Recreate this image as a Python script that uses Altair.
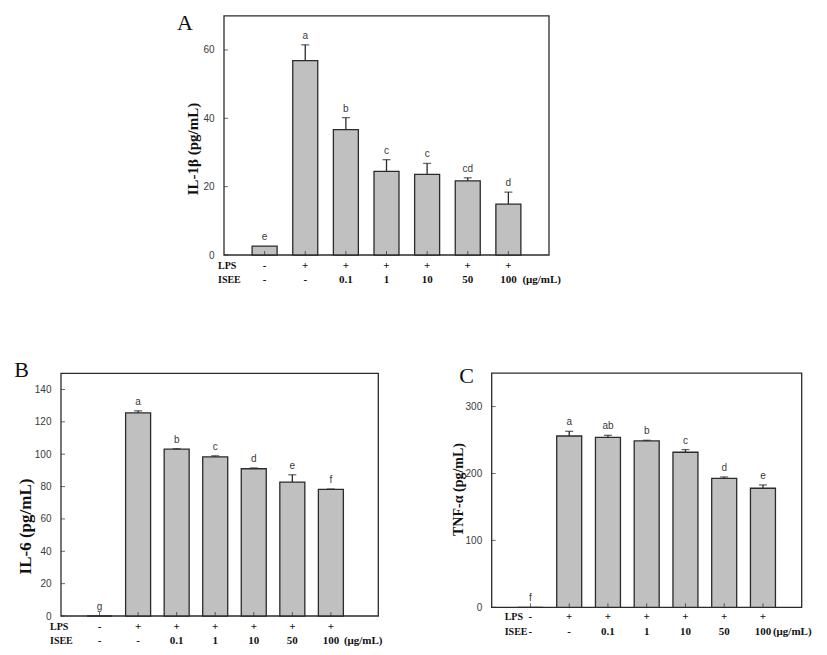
import altair as alt
import pandas as pd

# ---------------- data ----------------
positions = [1, 2, 3, 4, 5, 6, 7]
lps_row = ["-", "+", "+", "+", "+", "+", "+"]
isee_row = ["-", "-", "0.1", "1", "10", "50", "100"]

il1b_mean = [2.6, 56.9, 36.7, 24.5, 23.6, 21.7, 14.9]
il1b_err = [0.0, 4.6, 3.5, 3.4, 3.2, 0.9, 3.5]
il1b_letters = ["e", "a", "b", "c", "c", "cd", "d"]

il6_mean = [0.0, 125.6, 103.1, 98.4, 91.0, 82.8, 78.2]
il6_err = [0.0, 1.2, 0.3, 0.6, 0.5, 4.5, 0.3]
il6_letters = ["g", "a", "b", "c", "d", "e", "f"]

tnf_mean = [0.0, 256.0, 254.0, 248.6, 231.7, 192.8, 177.9]
tnf_err = [0.0, 7.0, 3.0, 1.0, 4.0, 2.0, 5.0]
tnf_letters = ["f", "a", "ab", "b", "c", "d", "e"]

il1b_ticks = [0, 20, 40, 60]
il6_ticks = [0, 20, 40, 60, 80, 100, 120, 140]
tnf_ticks = [0, 100, 200, 300]

SERIF = "Liberation Serif"
SANS = "Liberation Sans"
STROKE = "#2b2b2b"
FILL = "#c0c0c0"
TXT = "#3a3a3a"


def panel(mean, err, letters, ticks, title, tag, cfg):
    df = pd.DataFrame({
        "pos": positions,
        "mean": mean,
        "err": err,
        "top": [m + e for m, e in zip(mean, err)],
        "letter": letters,
        "lps": lps_row,
        "isee": isee_row,
        "base": [cfg["ydom"][0]] * len(positions),
    })
    xs = alt.Scale(domain=cfg["xdom"], range=cfg["xr"], nice=False, zero=False)
    ys = alt.Scale(domain=cfg["ydom"], range=cfg["yr"], nice=False, zero=False)
    X = alt.X("pos:Q", scale=xs, axis=None)

    fdf = pd.DataFrame({"x0": [cfg["xdom"][0]], "x1": [cfg["xdom"][1]],
                        "y0": [cfg["ydom"][0]], "y1": [cfg["ydom"][1]]})
    frame = alt.Chart(fdf).mark_rect(fill="white", fillOpacity=0, stroke=STROKE, strokeWidth=1.3).encode(
        x=alt.X("x0:Q", scale=xs, axis=None), x2="x1:Q",
        y=alt.Y("y0:Q", scale=ys, axis=None), y2="y1:Q")

    bars = alt.Chart(df).mark_bar(size=25, fill=FILL, stroke=STROKE, strokeWidth=1.3).encode(
        x=X,
        y=alt.Y("mean:Q", scale=ys, axis=alt.Axis(
            values=ticks, ticks=False, domain=False, grid=False,
            labelFont=SANS, labelFontSize=10, labelColor=TXT, labelPadding=5,
            title=title, titleFont=SERIF, titleFontWeight="bold", titleFontSize=cfg["tsize"],
            titleColor="#111", titleAngle=270, titleBaseline="bottom", titleAlign="center",
            titleX=cfg["titleX"], titleY=cfg["titleY"], offset=cfg["offset"], orient="left")))

    errs = df[df["err"] > 0]
    rule = alt.Chart(errs).mark_rule(color=STROKE, strokeWidth=1.3).encode(
        x=X, y=alt.Y("mean:Q", scale=ys, axis=None), y2="top:Q")
    cap = alt.Chart(errs).mark_tick(orient="horizontal", size=8, thickness=1.3, color=STROKE).encode(
        x=X, y=alt.Y("top:Q", scale=ys, axis=None))
    lett = alt.Chart(df).mark_text(baseline="bottom", dy=-4, font=SANS, fontSize=10, color=TXT).encode(
        x=X, y=alt.Y("top:Q", scale=ys, axis=None), text="letter:N")

    tdf = pd.DataFrame({"v": ticks, "x0": [cfg["xdom"][0]] * len(ticks)})
    yt = alt.Chart(tdf).mark_tick(orient="horizontal", size=4, xOffset=2, thickness=1, color=STROKE).encode(
        x=alt.X("x0:Q", scale=xs, axis=None), y=alt.Y("v:Q", scale=ys, axis=None))
    xt = alt.Chart(df).mark_tick(orient="vertical", size=4, yOffset=-2, thickness=1, color=STROKE).encode(
        x=X, y=alt.Y("base:Q", scale=ys, axis=None))

    row_style = dict(font=SERIF, fontSize=11, fontWeight="bold", color="#111", baseline="middle")
    lab_style = dict(font=SERIF, fontSize=10, fontWeight="bold", color="#111", baseline="middle")
    lps_t = alt.Chart(df).mark_text(dy=cfg["dy1"], **row_style).encode(
        x=X, y=alt.Y("base:Q", scale=ys, axis=None), text="lps:N")
    isee_t = alt.Chart(df).mark_text(dy=cfg["dy2"], **row_style).encode(
        x=X, y=alt.Y("base:Q", scale=ys, axis=None), text="isee:N")

    ldf = pd.DataFrame({"x0": [cfg["xdom"][0]], "y0": [cfg["ydom"][0]], "y1": [cfg["ydom"][1]],
                        "p7": [positions[-1]]})
    lab1 = alt.Chart(ldf).mark_text(align="left", dx=cfg["ldx"], dy=cfg["dy1"], **lab_style).encode(
        x=alt.X("x0:Q", scale=xs, axis=None), y=alt.Y("y0:Q", scale=ys, axis=None), text=alt.value("LPS"))
    lab2 = alt.Chart(ldf).mark_text(align="left", dx=cfg["ldx"], dy=cfg["dy2"], **lab_style).encode(
        x=alt.X("x0:Q", scale=xs, axis=None), y=alt.Y("y0:Q", scale=ys, axis=None), text=alt.value("ISEE"))
    unit = alt.Chart(ldf).mark_text(align="left", dx=cfg["udx"], dy=cfg["dy2"], **row_style).encode(
        x=alt.X("p7:Q", scale=xs, axis=None), y=alt.Y("y0:Q", scale=ys, axis=None), text=alt.value("(μg/mL)"))
    letter = alt.Chart(ldf).mark_text(align="center", baseline="alphabetic", dx=cfg["pdx"], dy=cfg["pdy"],
                                      font=SERIF, fontSize=22, color="#111").encode(
        x=alt.X("x0:Q", scale=xs, axis=None), y=alt.Y("y1:Q", scale=ys, axis=None), text=alt.value(tag))

    return alt.layer(frame, bars, rule, cap, lett, yt, xt, lps_t, isee_t, lab1, lab2, unit, letter
                     ).resolve_axis(x="independent", y="independent")


cfgA = dict(xdom=[0, 8], xr=[211, 546], ydom=[0, 70], yr=[247, 7.8], offset=-211, tsize=15,
            titleX=-19, titleY=140.5, dy1=11, dy2=25, ldx=-6, udx=14, pdx=-39, pdy=14)
cfgB = dict(xdom=[0, 8.23], xr=[48, 375.3], ydom=[0, 150], yr=[608, 365.3], offset=-48, tsize=17,
            titleX=-22, titleY=518, dy1=11, dy2=25, ldx=-11, udx=13, pdx=-39.5, pdy=4)
cfgC = dict(xdom=[0, 8], xr=[478.7, 798.7], ydom=[0, 350], yr=[599.3, 365.1], offset=-478.7, tsize=14,
            titleX=-21, titleY=481, dy1=9.5, dy2=24.5, ldx=13, udx=10, pdx=-25, pdy=10)

pA = panel(il1b_mean, il1b_err, il1b_letters, il1b_ticks, "IL-1β (pg/mL)", "A", cfgA)
pB = panel(il6_mean, il6_err, il6_letters, il6_ticks, "IL-6 (pg/mL)", "B", cfgB)
pC = panel(tnf_mean, tnf_err, tnf_letters, tnf_ticks, "TNF-α (pg/mL)", "C", cfgC)

chart = alt.layer(pA, pB, pC).resolve_scale(
    x="independent", y="independent"
).resolve_axis(
    x="independent", y="independent"
).properties(
    width=811, height=639,
    autosize=alt.AutoSizeParams(type="none"),
    padding=0,
    background="white",
).configure_view(stroke=None)

chart.save("out.html", embed_options={"renderer": "svg", "actions": False})
